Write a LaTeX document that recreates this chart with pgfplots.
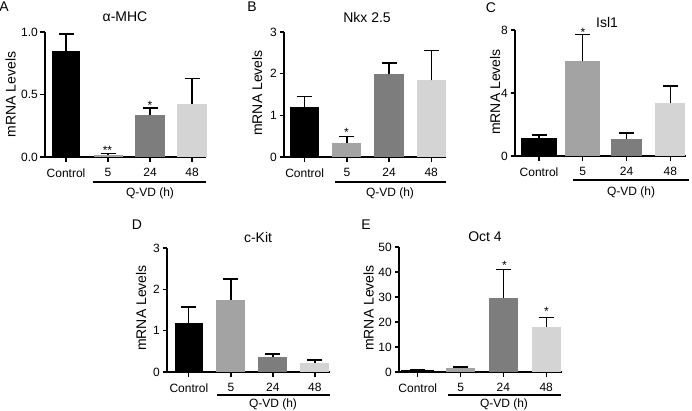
\documentclass[border=0pt]{standalone}
\usepackage{fontspec}
\setmainfont{Liberation Sans}
\usepackage{pgfplots}
\pgfplotsset{compat=1.18}
\definecolor{cC}{RGB}{0,0,0}
\definecolor{cF}{RGB}{163,163,163}
\definecolor{cT}{RGB}{125,125,125}
\definecolor{cE}{RGB}{212,212,212}
\newcommand{\tk}{\fontsize{12bp}{14bp}\selectfont}
\newcommand{\tl}{\fontsize{14bp}{16bp}\selectfont}
\pgfplotsset{
  panel/.style={
    scale only axis,
    anchor=south west,
    axis x line=bottom,
    axis y line=left,
    axis line style={-, line width=1.3bp, black},
    tick align=outside,
    major tick length=4.5bp,
    tick style={line width=1.3bp, black},
    xtick={0,1,2,3},
    xticklabels={Control,5,24,48},
    ymin=0,
    ticklabel style={font=\tk},
    yticklabel style={inner sep=2.5bp},
    xticklabel style={yshift=-3.5bp},
    clip=false,
  },
  bw/.style={ybar, bar shift=0pt, bar width=#1, draw=none,
    error bars/y dir=plus, error bars/y explicit,
    error bars/error bar style={line width=1.3bp, black},
    error bars/error mark options={rotate=90, line width=1.3bp, mark size=7.5bp, black}},
}
\begin{document}
\begin{tikzpicture}
\useasboundingbox (0,0) rectangle (692bp,-411bp);
% ---------------- A
\begin{axis}[panel, at={(45bp,-157bp)}, width=161bp, height=125bp,
  xmin=-0.5, xmax=3.33, ymax=1, ytick={0,0.5,1}, yticklabels={0.0,0.5,1.0}]
\addplot[fill=cC, bw=0.67] coordinates {(0,0.845) +- (0,0.14)};
\addplot[fill=cF, bw=0.69] coordinates {(1,0.019) +- (0,0.009)};
\addplot[fill=cT, bw=0.71] coordinates {(2,0.339) +- (0,0.053)};
\addplot[fill=cE, bw=0.71] coordinates {(3,0.424) +- (0,0.203)};
\end{axis}
% ---------------- B
\begin{axis}[panel, at={(284bp,-157bp)}, width=162bp, height=125bp,
  xmin=-0.49, xmax=3.35, ymax=3, ytick={0,1,2,3}, yticklabels={0,1,2,3}]
\addplot[fill=cC, bw=0.69] coordinates {(0,1.20) +- (0,0.256)};
\addplot[fill=cF, bw=0.69] coordinates {(1,0.336) +- (0,0.16)};
\addplot[fill=cT, bw=0.69] coordinates {(2,1.984) +- (0,0.272)};
\addplot[fill=cE, bw=0.69] coordinates {(3,1.84) +- (0,0.72)};
\end{axis}
% ---------------- C
\begin{axis}[panel, at={(515bp,-156bp)}, width=171bp, height=126bp,
  xmin=-0.55, xmax=3.36, ymax=8, ytick={0,4,8}, yticklabels={0,4,8}]
\addplot[fill=cC, bw=0.82] coordinates {(0,1.16) +- (0,0.17)};
\addplot[fill=cF, bw=0.80] coordinates {(1,6.01) +- (0,1.69)};
\addplot[fill=cT, bw=0.69] coordinates {(2,1.10) +- (0,0.36)};
\addplot[fill=cE, bw=0.69] coordinates {(3,3.39) +- (0,1.05)};
\end{axis}
% ---------------- D
\begin{axis}[panel, at={(167bp,-372bp)}, width=163bp, height=124bp,
  xmin=-0.52, xmax=3.36, ymax=3, ytick={0,1,2,3}, yticklabels={0,1,2,3}]
\addplot[fill=cC, bw=0.67] coordinates {(0,1.18) +- (0,0.39)};
\addplot[fill=cF, bw=0.69] coordinates {(1,1.75) +- (0,0.50)};
\addplot[fill=cT, bw=0.69] coordinates {(2,0.356) +- (0,0.08)};
\addplot[fill=cE, bw=0.69] coordinates {(3,0.226) +- (0,0.065)};
\end{axis}
% ---------------- E
\begin{axis}[panel, at={(399bp,-372bp)}, width=163bp, height=125bp,
  xmin=-0.44, xmax=3.37, ymax=50, ytick={0,10,20,30,40,50}, yticklabels={0,10,20,30,40,50}]
\addplot[fill=cC, bw=0.77] coordinates {(0,0.8) +- (0,0.2)};
\addplot[fill=cF, bw=0.68] coordinates {(1,1.6) +- (0,0.4)};
\addplot[fill=cT, bw=0.68] coordinates {(2,29.8) +- (0,11.2)};
\addplot[fill=cE, bw=0.68] coordinates {(3,18.1) +- (0,3.8)};
\end{axis}
% ---------------- text
\begin{scope}[every node/.style={inner sep=0pt}]
\node[font=\tl] at (4bp,-7bp) {A};
\node[font=\tl] at (252bp,-7bp) {B};
\node[font=\tl] at (491bp,-8bp) {C};
\node[font=\tl] at (137bp,-225bp) {D};
\node[font=\tl] at (366bp,-225bp) {E};
\node[font=\tl] at (125bp,-17bp) {α-MHC};
\node[font=\tl] at (367bp,-17bp) {Nkx 2.5};
\node[font=\tl] at (607bp,-22bp) {Isl1};
\node[font=\tl] at (258bp,-237bp) {c-Kit};
\node[font=\tl] at (485bp,-237bp) {Oct 4};
\node[font=\tl, rotate=90] at (10.5bp,-94.5bp) {mRNA Levels};
\node[font=\tl, rotate=90] at (257bp,-93bp) {mRNA Levels};
\node[font=\tl, rotate=90] at (495bp,-92bp) {mRNA Levels};
\node[font=\tl, rotate=90] at (141bp,-308bp) {mRNA Levels};
\node[font=\tl, rotate=90] at (368.5bp,-308bp) {mRNA Levels};
\draw[line width=1.3bp] (93bp,-182bp) -- (206bp,-182bp);
\node[font=\tk] at (150bp,-193bp) {Q-VD (h)};
\draw[line width=1.3bp] (335bp,-182bp) -- (446bp,-182bp);
\node[font=\tk] at (390bp,-193bp) {Q-VD (h)};
\draw[line width=1.3bp] (573bp,-180bp) -- (689bp,-180bp);
\node[font=\tk] at (631bp,-192bp) {Q-VD (h)};
\draw[line width=1.3bp] (217bp,-395bp) -- (330bp,-395bp);
\node[font=\tk] at (273bp,-404bp) {Q-VD (h)};
\draw[line width=1.3bp] (448bp,-395bp) -- (561bp,-395bp);
\node[font=\tk] at (504bp,-404bp) {Q-VD (h)};
\node[font=\tk, anchor=base] at (107.5bp,-154bp) {**};
\node[font=\tk, anchor=base] at (150bp,-109bp) {*};
\node[font=\tk, anchor=base] at (346.5bp,-136bp) {*};
\node[font=\tk, anchor=base] at (583bp,-36bp) {*};
\node[font=\tk, anchor=base] at (504.5bp,-269bp) {*};
\node[font=\tk, anchor=base] at (546.5bp,-315bp) {*};
\end{scope}
\end{tikzpicture}
\end{document}
